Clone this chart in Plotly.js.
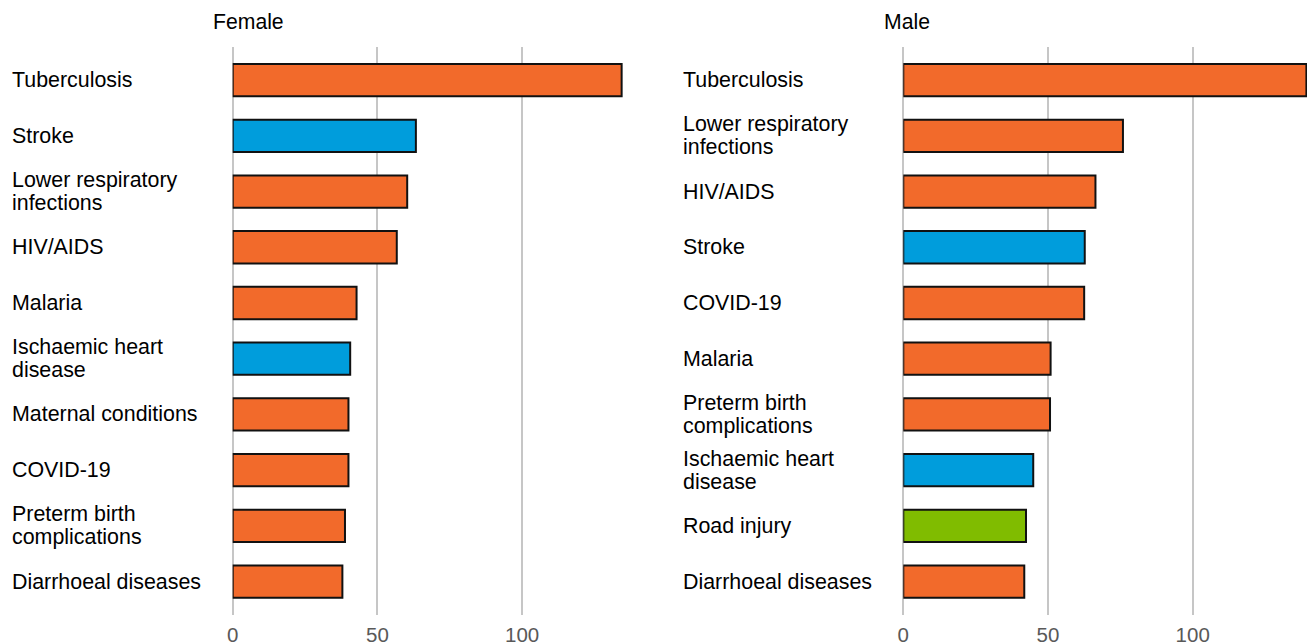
<!DOCTYPE html>
<html>
<head>
<meta charset="utf-8">
<script src="https://cdn.plot.ly/plotly-3.0.1.min.js"></script>
<style>
  html, body { margin: 0; padding: 0; background: #ffffff; }
  #chart { width: 1307px; height: 644px; }
</style>
</head>
<body>
<div id="chart"></div>
<script>
// ---------------- DATA ----------------
const panelTitles = ['Female', 'Male'];

const femaleCauses = ['Tuberculosis', 'Stroke', 'Lower respiratory infections', 'HIV/AIDS', 'Malaria',
  'Ischaemic heart disease', 'Maternal conditions', 'COVID-19', 'Preterm birth complications', 'Diarrhoeal diseases'];
const femaleLabels = ['Tuberculosis', 'Stroke', 'Lower respiratory<br>infections', 'HIV/AIDS', 'Malaria',
  'Ischaemic heart<br>disease', 'Maternal conditions', 'COVID-19', 'Preterm birth<br>complications', 'Diarrhoeal diseases'];
const femaleValues = [134.4, 63.3, 60.3, 56.7, 42.8, 40.6, 40.0, 40.0, 38.8, 37.9];
const femaleGroups = ['communicable', 'noncommunicable', 'communicable', 'communicable', 'communicable',
  'noncommunicable', 'communicable', 'communicable', 'communicable', 'communicable'];

const maleCauses = ['Tuberculosis', 'Lower respiratory infections', 'HIV/AIDS', 'Stroke', 'COVID-19',
  'Malaria', 'Preterm birth complications', 'Ischaemic heart disease', 'Road injury', 'Diarrhoeal diseases'];
const maleLabels = ['Tuberculosis', 'Lower respiratory<br>infections', 'HIV/AIDS', 'Stroke', 'COVID-19',
  'Malaria', 'Preterm birth<br>complications', 'Ischaemic heart<br>disease', 'Road injury', 'Diarrhoeal diseases'];
const maleValues = [139.3, 75.9, 66.4, 62.7, 62.5, 50.9, 50.7, 44.9, 42.4, 41.8];
const maleGroups = ['communicable', 'communicable', 'communicable', 'noncommunicable', 'communicable',
  'communicable', 'communicable', 'noncommunicable', 'injury', 'communicable'];

const xTickVals = [0, 50, 100];
const xTickText = ['0', '50', '100'];

// ---------------- STYLE ----------------
const groupColors = { communicable: '#f26a2b', noncommunicable: '#009ddc', injury: '#80bc00' };
const W = 1307, H = 644;
const FONT = 'Liberation Sans, Arial, sans-serif';
const xMax = 139.5;
const plotTop = 46.7, plotBottom = 615;
const panels = [
  { causes: femaleCauses, labels: femaleLabels, values: femaleValues, groups: femaleGroups,
    x0: 232.7, x1: 636.4, labelX: 10, titleX: 211, xa: 'x', ya: 'y' },
  { causes: maleCauses, labels: maleLabels, values: maleValues, groups: maleGroups,
    x0: 903.3, x1: 1307, labelX: 681, titleX: 882, xa: 'x2', ya: 'y2' }
];

const data = [];
const annotations = [];
const layout = {
  width: W, height: H,
  margin: { l: 0, r: 0, t: 0, b: 0, pad: 0 },
  paper_bgcolor: '#ffffff', plot_bgcolor: '#ffffff',
  showlegend: false,
  font: { family: FONT, size: 20, color: '#000' }
};

const lineGap = 23;
panels.forEach((p, i) => {
  data.push({
    type: 'bar', orientation: 'h',
    x: p.values, y: p.causes,
    xaxis: p.xa, yaxis: p.ya,
    width: 0.58,
    marker: { color: p.groups.map(g => groupColors[g]), line: { color: '#111111', width: 2 } },
    hoverinfo: 'x+y'
  });
  const xKey = i === 0 ? 'xaxis' : 'xaxis2';
  const yKey = i === 0 ? 'yaxis' : 'yaxis2';
  layout[xKey] = {
    domain: [p.x0 / W, p.x1 / W],
    range: [0, xMax], fixedrange: true,
    tickmode: 'array', tickvals: xTickVals, ticktext: xTickText,
    showgrid: true, gridcolor: '#c6c6c6', gridwidth: 2,
    zeroline: true, zerolinecolor: '#c6c6c6', zerolinewidth: 2,
    showline: false, ticks: '',
    ticklabelstandoff: 5,
    tickfont: { family: FONT, size: 20.5, color: '#595959' },
    anchor: i === 0 ? 'y' : 'y2'
  };
  layout[yKey] = {
    domain: [(H - plotBottom) / H, (H - plotTop) / H],
    type: 'category', categoryorder: 'array', categoryarray: p.causes,
    range: [p.causes.length - 0.4, -0.6], fixedrange: true,
    showgrid: false, zeroline: false, showline: false, showticklabels: false, ticks: '',
    anchor: i === 0 ? 'x' : 'x2'
  };
  // panel title
  annotations.push({
    xref: 'paper', yref: 'paper', x: p.titleX / W, y: (H - 21) / H,
    xanchor: 'left', yanchor: 'middle', showarrow: false,
    text: panelTitles[i], font: { family: FONT, size: 21.2, color: '#000' }
  });
  // category labels (left aligned), one annotation per line for tight leading
  p.labels.forEach((lab, k) => {
    const lines = lab.split('<br>');
    lines.forEach((ln, j) => {
      const offset = (j - (lines.length - 1) / 2) * lineGap;
      annotations.push({
        xref: 'paper', yref: p.ya, x: p.labelX / W, y: p.causes[k],
        xanchor: 'left', yanchor: 'middle', showarrow: false, align: 'left',
        yshift: -offset,
        text: ln, font: { family: FONT, size: 21.4, color: '#000' }
      });
    });
  });
});
layout.annotations = annotations;

Plotly.newPlot('chart', data, layout, { displayModeBar: false, staticPlot: true });
</script>
</body>
</html>
